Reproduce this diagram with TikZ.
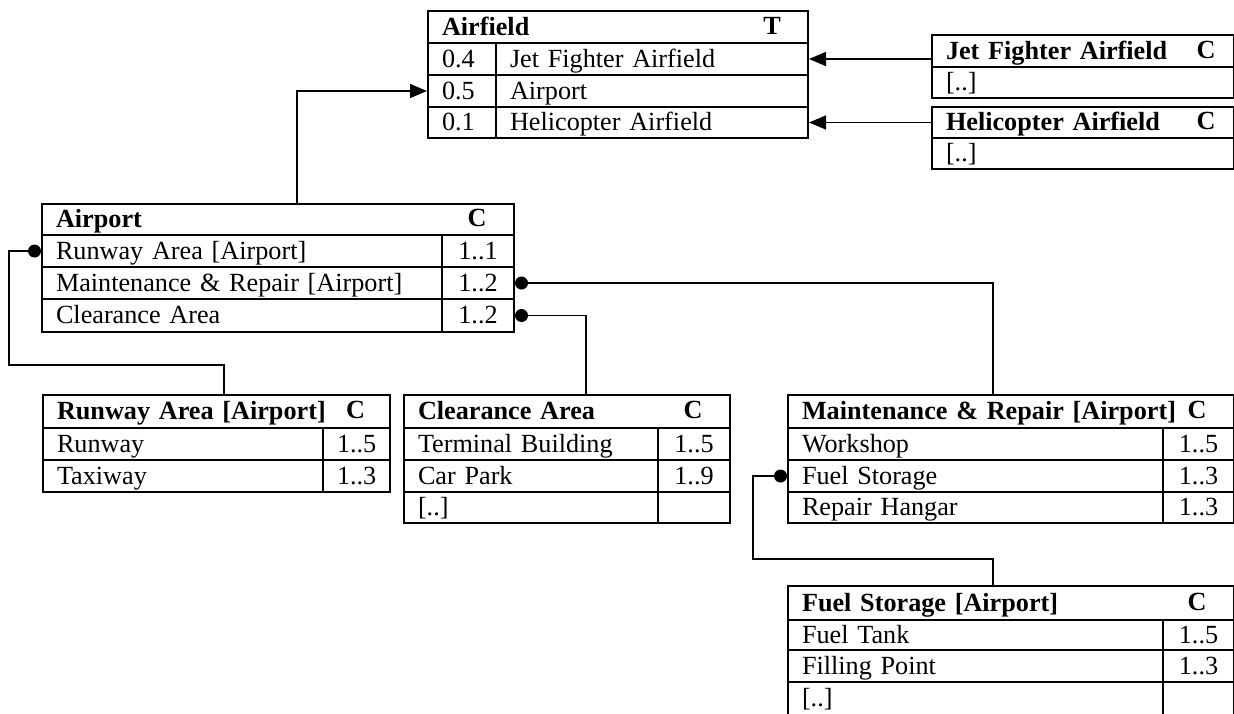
\documentclass[tikz,border=0pt]{standalone}
\usepackage{fontspec}
\setmainfont{Liberation Serif}
\usetikzlibrary{arrows.meta,positioning}
\newcommand\tblfont{\fontsize{26.2}{30}\selectfont}
\tikzset{%
  cell/.style={draw, line width=2pt, anchor=north west, inner sep=0pt,
    inner xsep=14pt, text height=20pt, text depth=4pt, align=left,
    font=\tblfont},
  num/.style={cell, align=center},
  head/.style={cell, font=\tblfont\bfseries},
  tag/.style={inner sep=0pt, text height=20pt, text depth=4pt,
    font=\tblfont\bfseries},
  dot/.style={circle, fill, minimum size=13pt, inner sep=0pt, outer sep=0pt},
  link/.style={line width=1.4pt},
  flow/.style={link, -{Triangle[length=17pt, width=14pt]}}
}

\begin{document}
\begin{tikzpicture}[x=1pt, y=-1pt]
  \useasboundingbox (0,0) rectangle (1234,713);

  % Airfield
  \node[head, text width=352pt, minimum height=32pt] (afH) at (427,10) {Airfield};
  \node[tag] (afT) at (772,26) {T};
  \node[cell, text width=40pt, minimum height=32pt] (af1a) at (427,42) {0.4};
  \node[cell, text width=284pt, minimum height=32pt] (af1b) at (495,42) {Jet Fighter Airfield};
  \node[cell, text width=40pt, minimum height=32pt] (af2a) at (427,74) {0.5};
  \node[cell, text width=284pt, minimum height=32pt] (af2b) at (495,74) {Airport};
  \node[cell, text width=40pt, minimum height=31pt] (af3a) at (427,106) {0.1};
  \node[cell, text width=284pt, minimum height=31pt] (af3b) at (495,106) {Helicopter Airfield};

  % Jet Fighter Airfield, Helicopter Airfield
  \node[head, text width=274pt, minimum height=32pt] (jfH) at (931,34) {Jet Fighter Airfield};
  \node[tag] (jfT) at (1206,50) {C};
  \node[cell, text width=274pt, minimum height=31pt] (jf1) at (931,66) {[..]};
  \node[head, text width=274pt, minimum height=31pt] (hfH) at (931,106) {Helicopter Airfield};
  \node[tag] (hfT) at (1206,121.5) {C};
  \node[cell, text width=274pt, minimum height=31pt] (hf1) at (931,137) {[..]};

  % Airport
  \node[head, text width=444pt, minimum height=31pt] (apH) at (41,203) {Airport};
  \node[tag] (apT) at (477,218.5) {C};
  \node[cell, text width=372pt, minimum height=32pt] (ap1a) at (41,234) {Runway Area [Airport]};
  \node[num, text width=44pt, minimum height=32pt] (ap1b) at (441,234) {1..1};
  \node[cell, text width=372pt, minimum height=32pt] (ap2a) at (41,266) {Maintenance \& Repair [Airport]};
  \node[num, text width=44pt, minimum height=32pt] (ap2b) at (441,266) {1..2};
  \node[cell, text width=372pt, minimum height=33pt] (ap3a) at (41,298) {Clearance Area};
  \node[num, text width=44pt, minimum height=33pt] (ap3b) at (441,298) {1..2};

  % Runway Area
  \node[head, text width=319pt, minimum height=33pt] (rwH) at (42,394) {Runway Area [Airport]};
  \node[tag] (rwT) at (355.5,410.5) {C};
  \node[cell, text width=252pt, minimum height=32pt] (rw1a) at (42,427) {Runway};
  \node[num, text width=39pt, minimum height=32pt] (rw1b) at (322,427) {1..5};
  \node[cell, text width=252pt, minimum height=32pt] (rw2a) at (42,459) {Taxiway};
  \node[num, text width=39pt, minimum height=32pt] (rw2b) at (322,459) {1..3};

  % Clearance Area
  \node[head, text width=298pt, minimum height=33pt] (clH) at (403,394) {Clearance Area};
  \node[tag] (clT) at (693,410.5) {C};
  \node[cell, text width=226pt, minimum height=32pt] (cl1a) at (403,427) {Terminal Building};
  \node[num, text width=44pt, minimum height=32pt] (cl1b) at (657,427) {1..5};
  \node[cell, text width=226pt, minimum height=32pt] (cl2a) at (403,459) {Car Park};
  \node[num, text width=44pt, minimum height=32pt] (cl2b) at (657,459) {1..9};
  \node[cell, text width=226pt, minimum height=31pt] (cl3a) at (403,491) {[..]};
  \node[num, text width=44pt, minimum height=31pt] (cl3b) at (657,491) {};

  % Maintenance & Repair
  \node[head, text width=418pt, minimum height=33pt] (mrH) at (787,394) {Maintenance \& Repair [Airport]};
  \node[tag] (mrT) at (1197,410.5) {C};
  \node[cell, text width=347pt, minimum height=32pt] (mr1a) at (787,427) {Workshop};
  \node[num, text width=43pt, minimum height=32pt] (mr1b) at (1162,427) {1..5};
  \node[cell, text width=347pt, minimum height=32pt] (mr2a) at (787,459) {Fuel Storage};
  \node[num, text width=43pt, minimum height=32pt] (mr2b) at (1162,459) {1..3};
  \node[cell, text width=347pt, minimum height=31pt] (mr3a) at (787,491) {Repair Hangar};
  \node[num, text width=43pt, minimum height=31pt] (mr3b) at (1162,491) {1..3};

  % Fuel Storage
  \node[head, text width=418pt, minimum height=34pt] (fsH) at (787,585) {Fuel Storage [Airport]};
  \node[tag] (fsT) at (1197,602) {C};
  \node[cell, text width=347pt, minimum height=30pt] (fs1a) at (787,619) {Fuel Tank};
  \node[num, text width=43pt, minimum height=30pt] (fs1b) at (1162,619) {1..5};
  \node[cell, text width=347pt, minimum height=32pt] (fs2a) at (787,649) {Filling Point};
  \node[num, text width=43pt, minimum height=32pt] (fs2b) at (1162,649) {1..3};
  \node[cell, text width=347pt, minimum height=40pt, text depth=12pt] (fs3a) at (787,681) {[..]};
  \node[num, text width=43pt, minimum height=40pt] (fs3b) at (1162,681) {};

  % dots
  \node[dot, left=0pt of ap1a] (d1) {};
  \node[dot, right=0pt of ap2b] (d2) {};
  \node[dot, right=0pt of ap3b] (d3) {};
  \node[dot, left=0pt of mr2a] (d4) {};

  \coordinate (apOut) at (297,203);
  \coordinate (k1) at (9,365);
  \coordinate (rwIn) at (224,394);
  \coordinate (clIn) at (586,394);
  \coordinate (mrIn) at (993,394);
  \coordinate (k4) at (753,559);
  \coordinate (fsIn) at (993,585);

  % connectors
  \draw[flow] (apOut) |- (af2a.west);
  \draw[flow] (jfH.west |- af1b.east) -- (af1b.east);
  \draw[flow] (hfH.west |- af3b.east) -- (af3b.east);
  \draw[link] (d1.west) -| (k1) -| (rwIn);
  \draw[link] (d3.east) -| (clIn);
  \draw[link] (d2.east) -| (mrIn);
  \draw[link] (d4.west) -| (k4) -| (fsIn);
\end{tikzpicture}
\end{document}
